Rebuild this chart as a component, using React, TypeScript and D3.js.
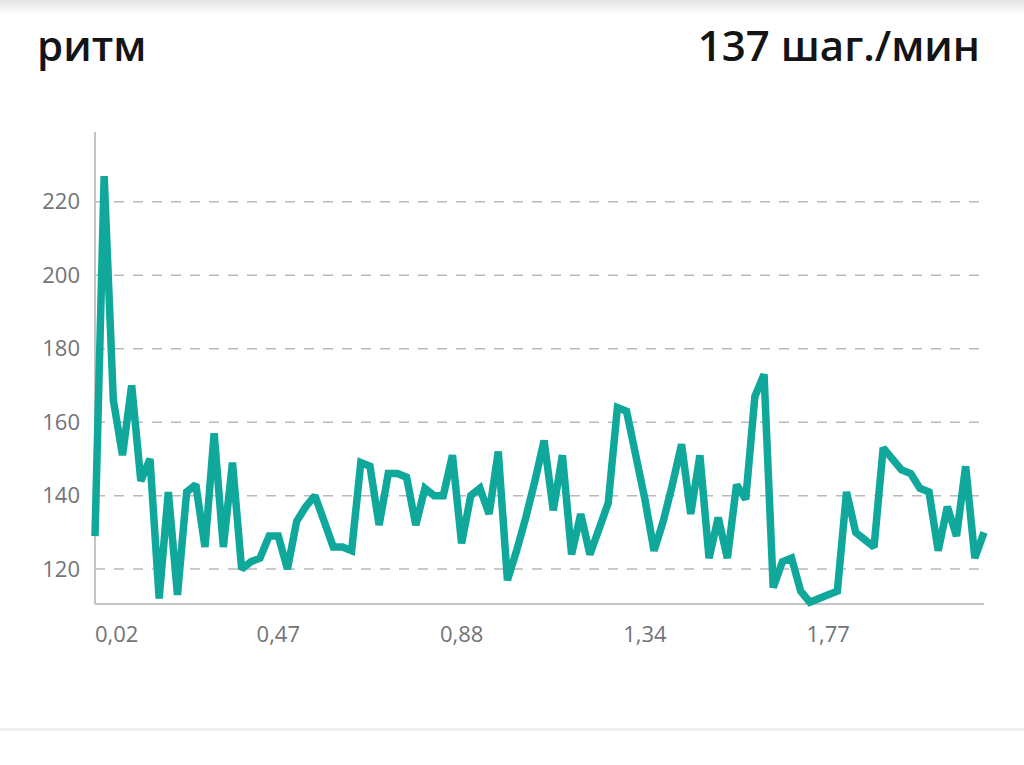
import { useRef, useEffect } from 'react';
import * as d3 from 'd3';

// cadence samples, steps/min
const cadence = [
  129, 227, 166, 151, 170, 144, 150, 112, 141, 113,
  141, 143, 126, 157, 126, 149, 120, 122, 123, 129,
  129, 120, 133, 137, 140, 133, 126, 126, 125, 149,
  148, 132, 146, 146, 145, 132, 142, 140, 140, 151,
  127, 140, 142, 135, 152, 117, 125, 134, 144, 155,
  136, 151, 124, 135, 124, 131, 138, 164, 163, 151,
  139, 125, 133, 143, 154, 135, 151, 123, 134, 123,
  143, 139, 167, 173, 115, 122, 123, 114, 111, 112,
  113, 114, 141, 130, 128, 126, 153, 150, 147, 146,
  142, 141, 125, 137, 129, 148, 123, 130,
];
const yTicks = [120, 140, 160, 180, 200, 220];
const xTickIndex = [0, 20, 40, 60, 80];
const xTickLabels = ['0,02', '0,47', '0,88', '1,34', '1,77'];
const title = 'ритм';
const summary = '137 шаг./мин';

const App = () => {
  const ref = useRef(null);

  useEffect(() => {
    if (!ref.current) return;
    const svg = d3.select(ref.current);
    svg.selectAll('*').remove();

    const width = 1024;
    const height = 765;
    const left = 95;
    const right = 984;
    const top = 132;
    const bottom = 604;
    const font = "'Open Sans', 'Noto Sans', sans-serif";

    const x = d3.scaleLinear().domain([0, cadence.length - 1]).range([left, right]);
    const y = d3.scaleLinear().domain([110.5, 239]).range([bottom, top]);

    // card edges
    const defs = svg.append('defs');
    const grad = defs.append('linearGradient')
      .attr('id', 'shadow').attr('x1', 0).attr('x2', 0).attr('y1', 0).attr('y2', 1);
    grad.append('stop').attr('offset', '0%').attr('stop-color', '#e4e4e6');
    grad.append('stop').attr('offset', '100%').attr('stop-color', '#ffffff');
    svg.append('rect').attr('width', width).attr('height', height).attr('fill', '#fff');
    svg.append('rect').attr('x', 0).attr('y', 0).attr('width', width).attr('height', 14)
      .attr('fill', 'url(#shadow)');
    svg.append('rect').attr('x', 0).attr('y', 728).attr('width', width).attr('height', 3)
      .attr('fill', '#eef0f3');

    svg.append('text')
      .attr('x', 37).attr('y', 61)
      .attr('font-family', font).attr('font-weight', 600).attr('font-size', 42)
      .attr('fill', '#141414')
      .text(title);
    svg.append('text')
      .attr('x', 980).attr('y', 61)
      .attr('text-anchor', 'end')
      .attr('font-family', font).attr('font-weight', 600).attr('font-size', 42)
      .attr('fill', '#141414')
      .text(summary);

    // grid
    svg.append('g')
      .selectAll('line')
      .data(yTicks)
      .join('line')
      .attr('x1', left).attr('x2', right)
      .attr('y1', d => y(d)).attr('y2', d => y(d))
      .style('stroke', '#b9b9bb')
      .style('stroke-width', 1.5)
      .style('stroke-dasharray', '10,9');

    svg.append('g')
      .selectAll('text')
      .data(yTicks)
      .join('text')
      .attr('x', 80).attr('y', d => y(d))
      .attr('dy', '0.35em')
      .attr('text-anchor', 'end')
      .attr('font-family', font).attr('font-size', 22)
      .attr('fill', '#737378')
      .text(d => d);

    // axes
    svg.append('line')
      .attr('x1', left).attr('x2', left).attr('y1', top).attr('y2', bottom)
      .style('stroke', '#c4c4c6').style('stroke-width', 2);
    svg.append('line')
      .attr('x1', left).attr('x2', right).attr('y1', bottom).attr('y2', bottom)
      .style('stroke', '#c4c4c6').style('stroke-width', 2);

    svg.append('g')
      .selectAll('text')
      .data(xTickIndex)
      .join('text')
      .attr('x', d => x(d)).attr('y', 642)
      .attr('text-anchor', (d, i) => (i === 0 ? 'start' : 'middle'))
      .attr('font-family', font).attr('font-size', 22)
      .attr('fill', '#737378')
      .text((d, i) => xTickLabels[i]);

    const line = d3.line<number>()
      .x((d, i) => x(i))
      .y(d => y(d));

    svg.append('path')
      .datum(cadence)
      .attr('d', line)
      .style('fill', 'none')
      .style('stroke', '#0fa89a')
      .style('stroke-width', 7.5)
      .style('stroke-linejoin', 'miter')
      .style('stroke-miterlimit', 2);
  }, []);

  return (
    <svg
      ref={ref}
      width={1024}
      height={765}
      style={{ position: 'absolute', left: 0, top: 0 }}
    />
  );
};

export default App;
